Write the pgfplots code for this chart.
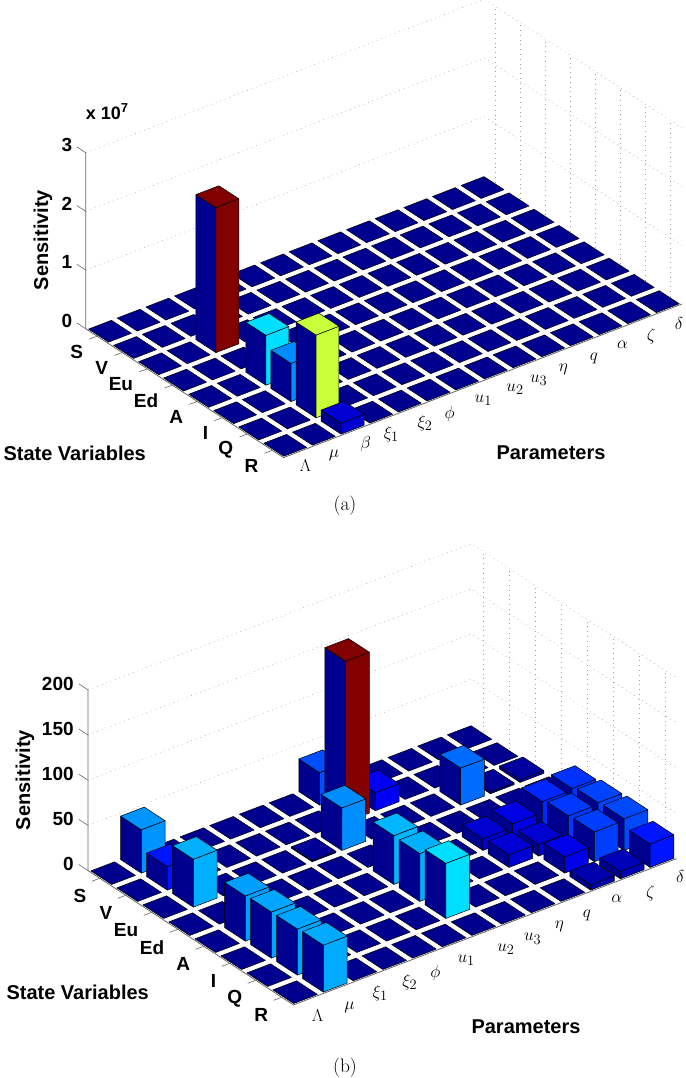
\documentclass[border=0pt]{standalone}
\usepackage{fontspec}
\usepackage{pgfplots}
\usepackage{pgfplotstable}
\pgfplotsset{compat=1.18}
\newfontfamily\hv{Liberation Sans}
\pgfplotsset{colormap={mjet}{rgb255=(0,0,143) rgb255=(0,0,255) rgb255=(0,128,255) rgb255=(0,255,255) rgb255=(128,255,128) rgb255=(255,255,0) rgb255=(255,128,0) rgb255=(255,0,0) rgb255=(128,0,0)}}
% rows: state variables S..R, columns: parameters
\pgfplotstableread[header=false]{
0 0 0    0 0 0 0 0 0 0 0 0 0 0
0 0 0    0 0 0 0 0 0 0 0 0 0 0
0 0 2.47 0 0 0 0 0 0 0 0 0 0 0
0 0 0    0 0 0 0 0 0 0 0 0 0 0
0 0 0.85 0 0 0 0 0 0 0 0 0 0 0
0 0 0.65 0 0 0 0 0 0 0 0 0 0 0
0 0 1.41 0 0 0 0 0 0 0 0 0 0 0
0 0 0.187 0 0 0 0 0 0 0 0 0 0 0
}\tableA
\pgfplotstableread[header=false]{
0 48 0 0 0 0   0  36  0  0  0  0  0
0 26 0 0 0 0   0  178 20 0  0  0  0
0 53 0 0 0 1.5 47 0   0  0  41 2  3
0 0  0 0 0 0   0  0   0  0  0  0  0
0 50 0 0 0 0   54 0   0  13 17 29 31
0 51 0 0 0 0   53 0   0  14 13 32 34
0 51 0 0 0 0   61 0   0  0  18 33 35
0 52 0 0 0 0   0  0   0  0  6  8  26
}\tableB
\newcommand\buildbars[3]{%
  \gdef\curcoords{}%
  \pgfmathtruncatemacro\lasti{#2-1}%
  \pgfmathtruncatemacro\nexti{#2-2}%
  \foreach \j in {0,...,7}{%
    \foreach \i in {\lasti,\nexti,...,0}{%
      \pgfplotstablegetelem{\j}{[index]\i}\of{#1}%
      \edef\h{\pgfplotsretval}%
      \pgfmathsetmacro\xa{\i+0.6}\pgfmathsetmacro\xb{\i+1.4}%
      \pgfmathsetmacro\ya{\j+0.6}\pgfmathsetmacro\yb{\j+1.4}%
      \ifdim\h pt>0pt
        \xdef\curcoords{\curcoords (\xa,\ya,0)[0] (\xa,\yb,0)[0] (\xa,\yb,\h)[0] (\xa,\ya,\h)[0]
          (\xa,\yb,0)[\h] (\xb,\yb,0)[\h] (\xb,\yb,\h)[\h] (\xa,\yb,\h)[\h] }%
      \fi
      \xdef\curcoords{\curcoords (\xa,\ya,\h)[\h] (\xb,\ya,\h)[\h] (\xb,\yb,\h)[\h] (\xa,\yb,\h)[\h] }%
    }%
  }%
  \global\let#3\curcoords
}
\newcommand\xl[3]{\raisebox{#2pt}[0pt][0pt]{\makebox[0pt][c]{\hspace*{#1pt}\hspace*{#1pt}$#3$}}}
\newcommand\lab{\hv\bfseries\fontsize{20}{20}\selectfont}
\newcommand\tlab{\hv\bfseries\fontsize{19}{19}\selectfont}
\pgfplotsset{
  barstyle/.style={patch,patch type=rectangle,shader=faceted,faceted color=black,line width=0.5pt,point meta=explicit,z buffer=none},
  gl/.style={no markers,gray!75,line width=0.5pt,dash pattern=on 0.8pt off 4pt,forget plot},
  al/.style={no markers,gray!80!black,line width=0.8pt,forget plot},
  common/.style={
    colormap name=mjet,
    clip=false,
    axis line style={draw=none},
    tick style={draw=none},
    tick align=outside,
    ymin=0.55,ymax=8.45,xmin=0.55,zmin=0,
    ytick={1,...,8},
    yticklabels={S,V,Eu,Ed,A,I,Q,R},
    minor tick num=0,
    /pgf/number format/assume math mode=true,
    ticklabel style={font=\tlab},
    major tick length=7pt,
  },
}
\buildbars{\tableA}{14}{\coordsA}
\buildbars{\tableB}{13}{\coordsB}
\begin{document}
\begin{tikzpicture}
\path[use as bounding box] (0,0) rectangle (685pt,1078pt);
\begin{axis}[common,anchor=origin,at={(85.83pt,749.15pt)},
  x={(28.66pt,11.05pt)},y={(25.03pt,-16.3pt)},z={(0pt,58.7pt)},
  xmax=14.45,zmax=3,ztick={0,1,2,3},xtick={1,...,14},
  xticklabel style={font=\fontsize{19}{19}\selectfont,anchor=center,xshift=5pt,yshift=-15pt},
  yticklabel style={anchor=east,xshift=-4pt,yshift=-13pt},
  zticklabel style={anchor=east,xshift=-4.3pt,yshift=4pt},
  xticklabels={\xl{-2}{0}{\Lambda},\xl{-2}{3}{\mu},\xl{1}{1}{\beta},\xl{-2}{0}{\xi_1},\xl{3}{0}{\xi_2},\xl{-1}{-2}{\phi},\xl{4}{3}{u_1},\xl{7}{3}{u_2},\xl{2}{1}{u_3},\xl{-2}{1}{\eta},\xl{0}{0}{q},\xl{0}{1}{\alpha},\xl{0}{-2}{\zeta},\xl{-1}{-2}{\delta}},
  point meta min=0,point meta max=2.47]
\pgfplotsinvokeforeach{1,2,3}{\addplot3[gl] coordinates {(0.55,0.55,#1)(14.45,0.55,#1)(14.45,8.45,#1)};}
\pgfplotsinvokeforeach{1,...,8}{\addplot3[gl] coordinates {(14.45,#1,0)(14.45,#1,3)};}
\edef\doplot{\noexpand\addplot3[barstyle] coordinates {\coordsA};}\doplot
\addplot3[al] coordinates {(0.55,0.55,3)(0.55,0.55,0)(0.55,8.45,0)(14.45,8.45,0)};
\pgfplotsinvokeforeach{0,1,2,3}{\addplot3[al,line width=0.6pt] coordinates {(0.55,0.55,#1)(0.55,0.19,#1)};}
\pgfplotsinvokeforeach{1,...,8}{\addplot3[al,line width=0.6pt] coordinates {(0.55,#1,0)(0.28,#1,0)};}
\end{axis}
\begin{axis}[common,anchor=origin,at={(88.08pt,207.4pt)},
  x={(29.7pt,11.34pt)},y={(26pt,-17pt)},z={(0pt,0.9035pt)},
  xmax=13.45,zmax=200,ztick={0,50,100,150,200},xtick={1,...,13},
  xticklabel style={font=\fontsize{19}{19}\selectfont,anchor=center,xshift=8pt,yshift=-16.5pt},
  yticklabel style={anchor=east,xshift=-3.5pt,yshift=-15.5pt},
  zticklabel style={anchor=east,xshift=-5pt,yshift=2.5pt},
  xticklabels={\xl{-3}{-1}{\Lambda},\xl{-1}{-1}{\mu},\xl{0}{0}{\xi_1},\xl{0}{0}{\xi_2},\xl{-4}{-3}{\phi},\xl{-3}{1}{u_1},\xl{7}{1}{u_2},\xl{4}{0}{u_3},\xl{1}{1}{\eta},\xl{-1}{1}{q},\xl{-1}{4}{\alpha},\xl{3}{-2}{\zeta},\xl{3}{2}{\delta}},
  point meta min=0,point meta max=178]
\pgfplotsinvokeforeach{50,100,150,200}{\addplot3[gl] coordinates {(0.55,0.55,#1)(13.45,0.55,#1)(13.45,8.45,#1)};}
\pgfplotsinvokeforeach{1,...,8}{\addplot3[gl] coordinates {(13.45,#1,0)(13.45,#1,200)};}
\edef\doplot{\noexpand\addplot3[barstyle] coordinates {\coordsB};}\doplot
\addplot3[al] coordinates {(0.55,0.55,200)(0.55,0.55,0)(0.55,8.45,0)(13.45,8.45,0)};
\pgfplotsinvokeforeach{0,50,100,150,200}{\addplot3[al,line width=0.6pt] coordinates {(0.55,0.55,#1)(0.55,0.19,#1)};}
\pgfplotsinvokeforeach{1,...,8}{\addplot3[al,line width=0.6pt] coordinates {(0.55,#1,0)(0.28,#1,0)};}
\end{axis}
\node[font=\lab,anchor=west] at (0pt,625pt) {State Variables};
\node[font=\lab] at (551pt,625pt) {Parameters};
\node[font=\lab,rotate=90] at (43pt,838pt) {Sensitivity};
\node[font=\lab,anchor=west] at (3pt,86pt) {State Variables};
\node[font=\lab] at (526pt,51pt) {Parameters};
\node[font=\lab,rotate=90] at (25pt,298pt) {Sensitivity};
\node[font=\hv\bfseries\fontsize{18}{18}\selectfont] at (107pt,966pt) {x 10\raisebox{7pt}{\fontsize{13}{13}\selectfont 7}};
\node[font=\fontsize{19.5}{19.5}\selectfont] at (345pt,572pt) {(a)};
\node[font=\fontsize{19.5}{19.5}\selectfont] at (345pt,10pt) {(b)};
\end{tikzpicture}
\end{document}
